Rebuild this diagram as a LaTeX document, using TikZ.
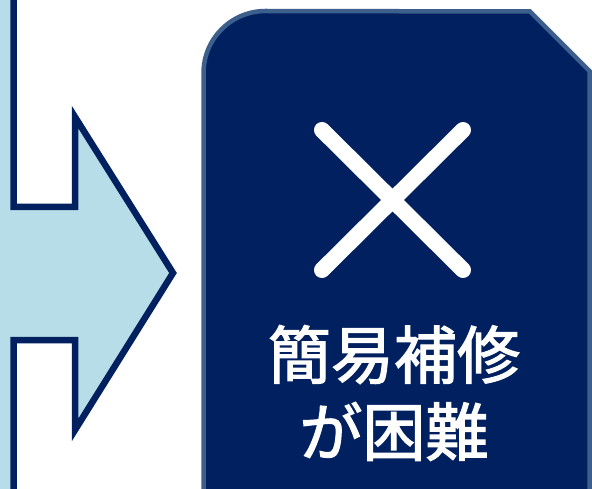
\documentclass[tikz,border=0pt]{standalone}
\usepackage{fontspec}
\usepackage{tikz}
\usepackage{xcolor}
\newfontfamily\cjk[FakeBold=2]{Noto Sans CJK JP}
\definecolor{navy}{HTML}{002060}
\definecolor{paleblue}{HTML}{B7DEE8}
\definecolor{rimblue}{HTML}{3D5F8C}

\begin{document}
\begin{tikzpicture}[x=1pt, y=-1pt,
    arrowline/.style={draw=navy, line width=6.5pt, line join=miter},
    panel/.style={fill=navy, draw=rimblue, line width=4.5pt},
    crossline/.style={draw=white, line width=16pt, line cap=round}]
    \useasboundingbox (0,0) rectangle (592,489);

    % left panel and the big arrow
    \fill[paleblue] (-10,-10) -- (13.5,-10) -- (13.5,207) -- (75,207) -- (75,117) -- (173,273)
        -- (75,430) -- (75,340) -- (13.5,340) -- (13.5,499) -- (-10,499) -- cycle;
    \draw[arrowline] (13.5,-10) -- (13.5,207) -- (75,207) -- (75,117) -- (173,273)
        -- (75,430) -- (75,340) -- (13.5,340) -- (13.5,499);

    % result box
    \path[panel] (203.5,499) -- (203.5,73) arc[start angle=180, end angle=270, radius=62]
        -- (530,11.5) -- (589.5,71) -- (589.5,499);
    \draw[crossline] (322,130) -- (463,270);
    \draw[crossline] (463,130) -- (322,270);

    \node[text=white, align=center, inner sep=0pt, font=\cjk\fontsize{63}{77}\selectfont] (verdict) at (394,393) {簡易補修\\が困難};
\end{tikzpicture}
\end{document}
